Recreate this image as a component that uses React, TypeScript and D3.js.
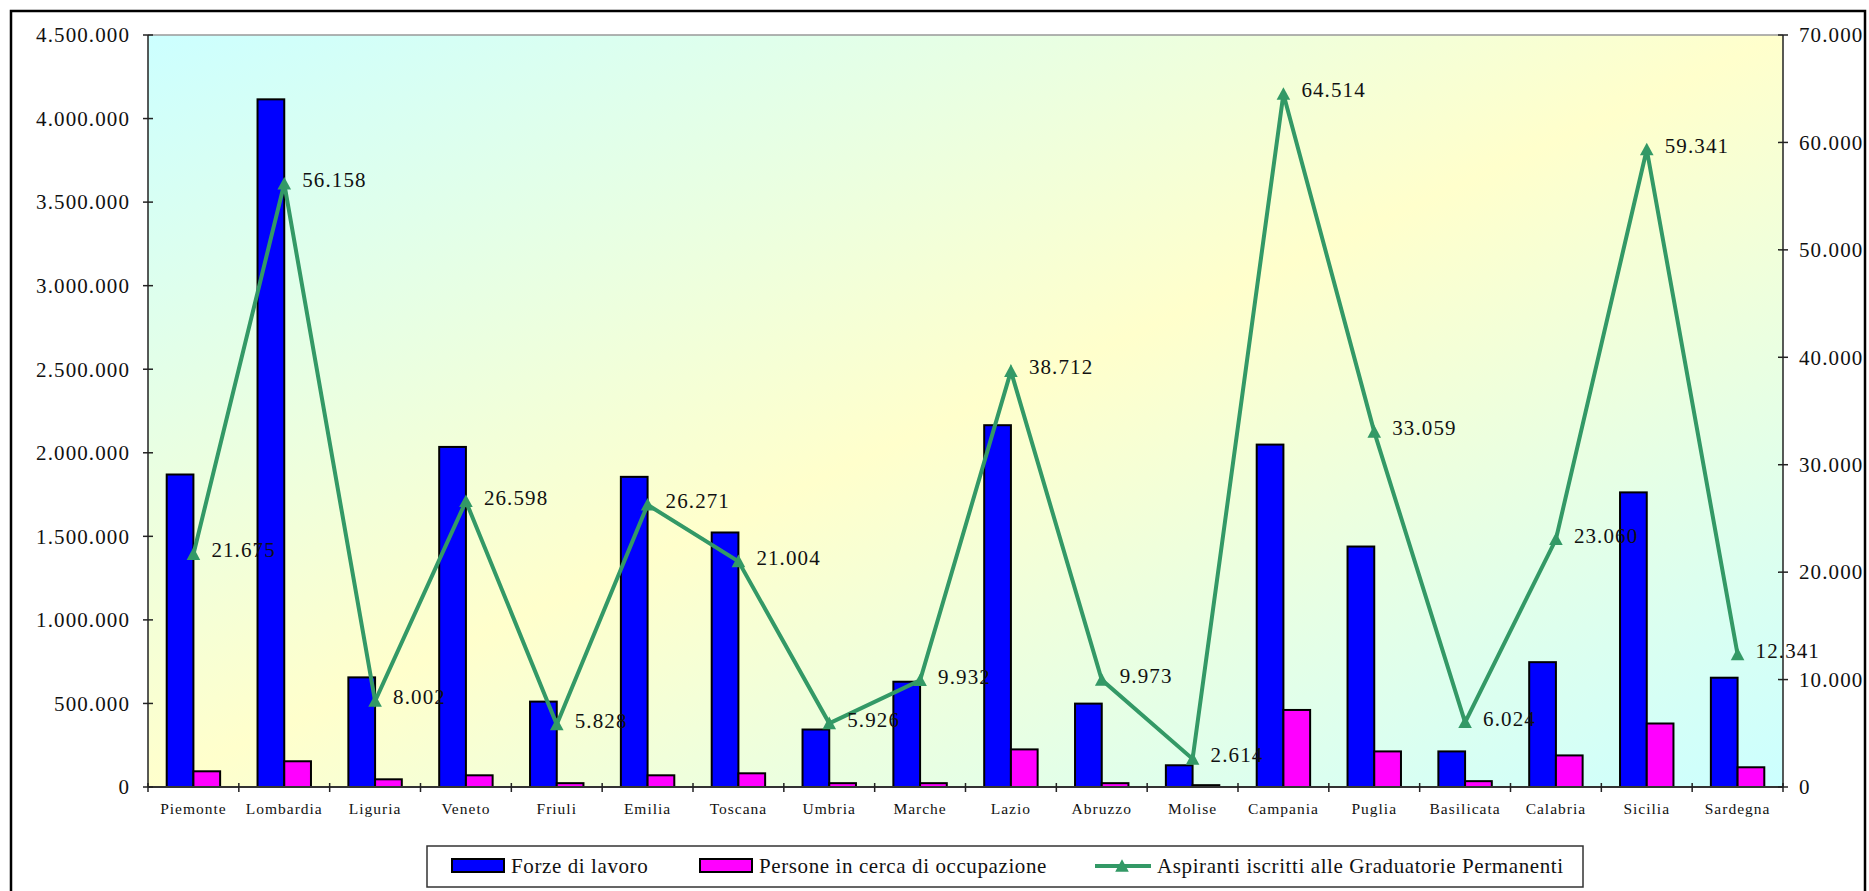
import React from "react";
import * as d3 from "d3";

const categories = ["Piemonte","Lombardia","Liguria","Veneto","Friuli","Emilia","Toscana","Umbria","Marche","Lazio","Abruzzo","Molise","Campania","Puglia","Basilicata","Calabria","Sicilia","Sardegna"];
const forzeLavoro = [1870000,4115000,656000,2035000,511000,1856000,1523000,344000,630000,2165000,499000,130000,2049000,1439000,213000,747000,1763000,654000];
const personeCerca = [94000,154000,46000,70000,23000,70000,82000,23000,23000,225000,23000,11000,461000,213000,35000,189000,380000,118000];
const aspiranti = [21675,56158,8002,26598,5828,26271,21004,5926,9932,38712,9973,2614,64514,33059,6024,23060,59341,12341];
const leftTicks = [0,500000,1000000,1500000,2000000,2500000,3000000,3500000,4000000,4500000];
const rightTicks = [0,10000,20000,30000,40000,50000,60000,70000];
const seriesNames = ["Forze di lavoro","Persone in cerca di occupazione","Aspiranti iscritti alle Graduatorie Permanenti"];
const barColors = ["#0000ff","#ff00ff"];
const lineColor = "#339966";

const locale = d3.formatLocale({ decimal: ",", thousands: ".", grouping: [3], currency: ["", ""] });
const fmt = locale.format(",d");

const FONT = "'Liberation Serif', 'Times New Roman', serif";
const TRI = "M0,-6.8L6.8,5.8L-6.8,5.8Z";

export default function App() {
  const W = 1869, H = 891;
  const left = 148, right = 1783, top = 35, bottom = 787;
  const x = d3.scaleBand<string>().domain(categories).range([left, right]).paddingInner(0).paddingOuter(0);
  const xg = d3.scaleBand<string>().domain(["a","b"]).range([0, x.bandwidth()]).paddingInner(0).paddingOuter(0.7);
  const yL = d3.scaleLinear().domain([0, 4500000]).range([bottom, top]);
  const yR = d3.scaleLinear().domain([0, 70000]).range([bottom, top]);
  const cx = (c: string) => (x(c) as number) + x.bandwidth() / 2;
  const line = d3.line<number>().x((_, i) => cx(categories[i])).y(d => yR(d));
  const boundaries = d3.range(categories.length + 1).map(i => left + i * x.bandwidth());

  return (
    <svg width={W} height={H} style={{ position: "absolute", left: 0, top: 0, background: "#fff" }} fontFamily={FONT}>
      <defs>
        <linearGradient id="bg" x1="0" y1="0" x2="1" y2="1">
          <stop offset="0" stopColor="#ccffff" />
          <stop offset="0.5" stopColor="#ffffcc" />
          <stop offset="1" stopColor="#ccffff" />
        </linearGradient>
      </defs>
      <rect x={11} y={11} width={1854} height={900} fill="#fff" stroke="#000" strokeWidth={2.5} />
      <rect x={left} y={top} width={right - left} height={bottom - top} fill="url(#bg)" />
      <line x1={left} x2={right} y1={top} y2={top} stroke="#999" strokeWidth={1.5} />

      {categories.map((c, i) => (
        <g key={c}>
          <rect x={(x(c) as number) + (xg("a") as number)} y={yL(forzeLavoro[i])} width={xg.bandwidth()} height={bottom - yL(forzeLavoro[i])} fill={barColors[0]} stroke="#000" strokeWidth={2} />
          <rect x={(x(c) as number) + (xg("b") as number)} y={yL(personeCerca[i])} width={xg.bandwidth()} height={bottom - yL(personeCerca[i])} fill={barColors[1]} stroke="#000" strokeWidth={2} />
        </g>
      ))}

      <line x1={left} x2={left} y1={top} y2={bottom} stroke="#222" strokeWidth={1.5} />
      <line x1={right} x2={right} y1={top} y2={bottom} stroke="#222" strokeWidth={1.5} />
      <line x1={left} x2={right} y1={bottom} y2={bottom} stroke="#333" strokeWidth={2} />
      {leftTicks.map(t => (
        <g key={"l" + t}>
          <line x1={left - 5} x2={left + 5} y1={yL(t)} y2={yL(t)} stroke="#222" strokeWidth={1.5} />
          <text x={130} y={yL(t)} dy="0.35em" textAnchor="end" fontSize={21} letterSpacing={1.1} fill="#111">{fmt(t)}</text>
        </g>
      ))}
      {rightTicks.map(t => (
        <g key={"r" + t}>
          <line x1={right - 5} x2={right + 5} y1={yR(t)} y2={yR(t)} stroke="#222" strokeWidth={1.5} />
          <text x={1799} y={yR(t)} dy="0.35em" textAnchor="start" fontSize={21} letterSpacing={1.1} fill="#111">{fmt(t)}</text>
        </g>
      ))}
      {boundaries.map((b, i) => (
        <line key={"b" + i} x1={b} x2={b} y1={bottom - 4} y2={bottom + 5} stroke="#222" strokeWidth={1.5} />
      ))}
      {categories.map(c => (
        <text key={"c" + c} x={cx(c)} y={814} textAnchor="middle" fontSize={15.5} letterSpacing={1} fill="#111">{c}</text>
      ))}

      <path d={line(aspiranti) as string} fill="none" stroke={lineColor} strokeWidth={4} strokeLinejoin="miter" />
      {aspiranti.map((v, i) => (
        <path key={"m" + i} d={TRI} transform={`translate(${cx(categories[i])},${yR(v)})`} fill={lineColor} />
      ))}
      {aspiranti.map((v, i) => (
        <text key={"v" + i} x={cx(categories[i]) + 18} y={yR(v) - 4} dy="0.35em" fontSize={21} letterSpacing={1.1} fill="#111">{fmt(v)}</text>
      ))}

      <rect x={427} y={846} width={1156} height={41} fill="#fff" stroke="#333" strokeWidth={1.5} />
      <rect x={452} y={859} width={52} height={13} fill={barColors[0]} stroke="#000" strokeWidth={2} />
      <text x={511} y={866} dy="0.35em" fontSize={21} letterSpacing={0.6} fill="#111">{seriesNames[0]}</text>
      <rect x={700} y={859} width={52} height={13} fill={barColors[1]} stroke="#000" strokeWidth={2} />
      <text x={759} y={866} dy="0.35em" fontSize={21} letterSpacing={0.6} fill="#111">{seriesNames[1]}</text>
      <line x1={1095} x2={1151} y1={866} y2={866} stroke={lineColor} strokeWidth={4} />
      <path d={TRI} transform="translate(1122,866)" fill={lineColor} />
      <text x={1157} y={866} dy="0.35em" fontSize={21} letterSpacing={0.6} fill="#111">{seriesNames[2]}</text>
    </svg>
  );
}
